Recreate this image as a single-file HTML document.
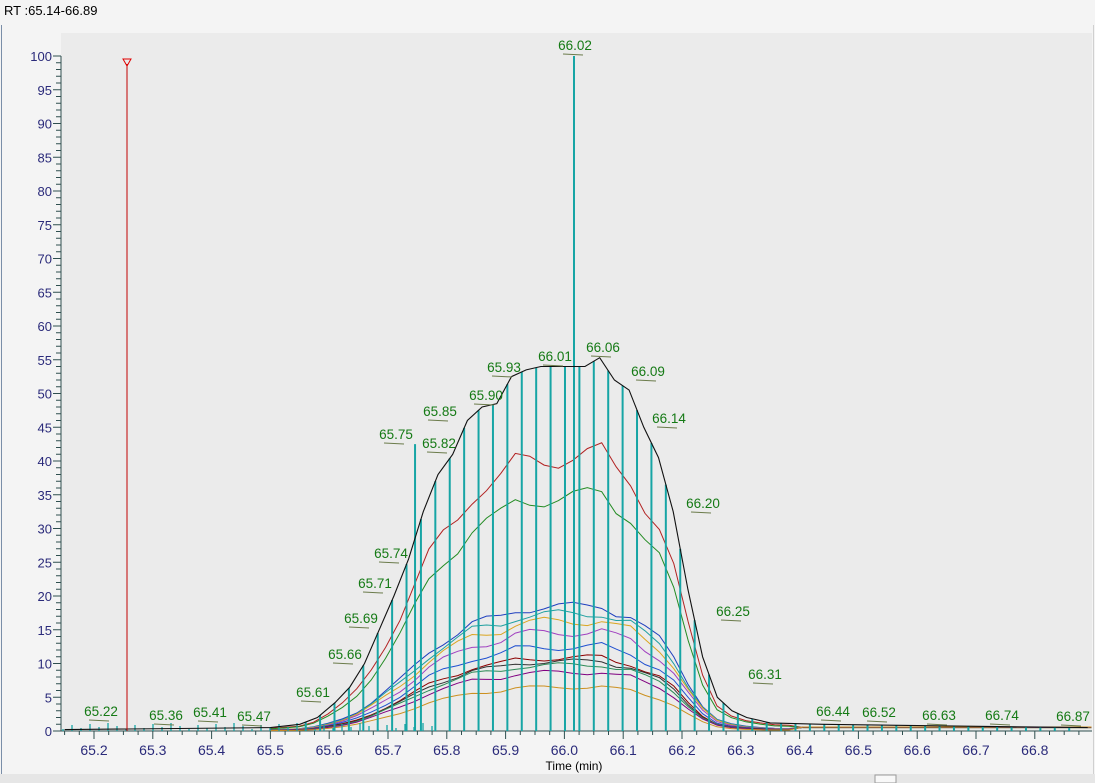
<!DOCTYPE html><html><head><style>
body{margin:0;background:#f4f4f4;width:1095px;height:783px;overflow:hidden;font-family:"Liberation Sans",sans-serif}
</style></head><body>
<svg id="s" width="1095" height="783" xmlns="http://www.w3.org/2000/svg" style="position:absolute;left:0;top:0">
<rect x="0" y="0" width="1095" height="783" fill="#f4f4f4"/>
<line x1="1.5" y1="25" x2="1.5" y2="783" stroke="#7a8ea8"/>
<line x1="1093.5" y1="25" x2="1093.5" y2="783" stroke="#d0d0d0"/>
<rect x="0" y="774" width="1095" height="9" fill="#e6e6e6"/>
<rect x="875" y="775" width="21" height="8" fill="#f8f8f8" stroke="#999"/>
<text x="4" y="15" font-size="13" fill="#000">RT :65.14-66.89</text>
<rect x="61" y="33" width="1031" height="698" fill="#ebebeb"/>
<g id="g"></g>
<text x="574" y="770" font-size="12" text-anchor="middle" fill="#000">Time (min)</text>
</svg>
<script>
const g=document.getElementById('g');const NS='http://www.w3.org/2000/svg';
function X(t){return 94+(t-65.2)*588}function Y(v){return 731-6.75*v}
function el(n,a,p){const e=document.createElementNS(NS,n);for(const k in a)e.setAttribute(k,a[k]);(p||g).appendChild(e);return e}
el('line',{x1:61,y1:56,x2:61,y2:731,stroke:'#2f4f4f'});
for(let v=0;v<=100;v++){const y=Y(v);el('line',{x1:v%5?56:53,y1:y,x2:61,y2:y,stroke:'#2f4f4f'});
if(v%5==0){const t=el('text',{x:52,y:y+5,'font-size':13,'text-anchor':'end',fill:'#2a2a7a'});t.textContent=v;}}
el('line',{x1:61,y1:731,x2:1092,y2:731,stroke:'#2f4f4f'});
for(let i=0;i<=75;i++){const t=65.15+i*0.025;const x=X(t);if(x<61||x>1092)continue;const major=Math.abs((t*10)-Math.round(t*10))<0.01;
el('line',{x1:x,y1:731,x2:x,y2:major?739:735,stroke:'#2f4f4f'});
if(major){const tx=el('text',{x:x,y:755,'font-size':14,'text-anchor':'middle',fill:'#2a2a7a'});tx.textContent=t.toFixed(1);}}
const B=[[65.15,0.2],[65.5,0.5],[65.55,1],[65.58,2],[65.61,4.2],[65.635,6.5],[65.66,10],[65.685,15],[65.71,20],[65.735,25.5],[65.76,32.5],[65.785,38],[65.81,41],[65.835,46],[65.86,48],[65.885,48.5],[65.91,52.5],[65.935,53.5],[65.96,54],[65.985,54],[66.01,54],[66.035,54],[66.06,55.3],[66.085,52],[66.11,50.5],[66.135,45],[66.16,40.5],[66.185,32.5],[66.21,21],[66.235,11],[66.26,5],[66.285,3],[66.31,2],[66.35,1.2],[66.44,1],[66.6,0.8],[66.89,0.5]];
function val(t){for(let i=1;i<B.length;i++)if(t<=B[i][0]){const a=B[i-1],b=B[i];return a[1]+(b[1]-a[1])*(t-a[0])/(b[0]-a[0]);}return 0.5}
const series=[[0.75,'#b22222'],[0.64,'#228b22'],[0.34,'#1f3fbf'],[0.32,'#20a0a0'],[0.3,'#daa520'],[0.27,'#a040c0'],[0.23,'#2050d0'],[0.2,'#8b0000'],[0.19,'#333'],[0.18,'#2e8b57'],[0.16,'#800080'],[0.12,'#cc9020']];
series.forEach(([f,c],k)=>{let p='';for(let t=65.5;t<=66.9;t+=0.0245){let v=val(t)*f*(1+0.04*Math.sin(t*300+k));if(t>66.4)v=0.5+0.1*k/12;p+=(p?'L':'M')+X(t).toFixed(1)+','+Y(v).toFixed(1);}el('path',{d:p,fill:'none',stroke:c,'stroke-width':1});});
for(let t=65.56;t<=66.88;t+=0.0245){const v=val(t);el('line',{x1:X(t),y1:731,x2:X(t),y2:Y(v),stroke:'#17a5a5','stroke-width':2});}
el('line',{x1:X(65.746),y1:731,x2:X(65.746),y2:Y(42.5),stroke:'#17a5a5','stroke-width':2});
el('line',{x1:574,y1:731,x2:574,y2:Y(100),stroke:'#17a5a5','stroke-width':2});
for(let x=63;x<440;x+=9){const hh=2+((x*37)%7);el('line',{x1:x,y1:731,x2:x,y2:731-hh,stroke:'#17a5a5','stroke-width':1.3});}
let bp='';B.forEach(([t,v])=>{bp+=(bp?'L':'M')+X(t).toFixed(1)+','+Y(v).toFixed(1)});
el('path',{d:bp,fill:'none',stroke:'#111','stroke-width':1.1});
el('line',{x1:127,y1:64,x2:127,y2:731,stroke:'#c00000'});
el('path',{d:'M123,59 L131,59 L127,66 Z',fill:'none',stroke:'#e00000'});
const L=[[101,716,'65.22'],[166,720,'65.36'],[210,717,'65.41'],[254,721,'65.47'],[313,697,'65.61'],[345,659,'65.66'],[361,623,'65.69'],[375,588,'65.71'],[391,558,'65.74'],[396,439,'65.75'],[439,448,'65.82'],[440,416,'65.85'],[486,400,'65.90'],[504,372,'65.93'],[555,361,'66.01'],[575,50,'66.02'],[603,352,'66.06'],[648,376,'66.09'],[669,423,'66.14'],[703,508,'66.20'],[733,616,'66.25'],[765,679,'66.31'],[833,716,'66.44'],[879,717,'66.52'],[939,720,'66.63'],[1002,720,'66.74'],[1073,721,'66.87']];
L.forEach(([x,y,s])=>{const t=el('text',{x:x,y:y,'font-size':13.5,'text-anchor':'middle',fill:'#157a15'});t.textContent=s;
el('line',{x1:x-12,y1:y+4,x2:x+8,y2:y+5,stroke:'#6b7b4b'});});
</script>
</body></html>
